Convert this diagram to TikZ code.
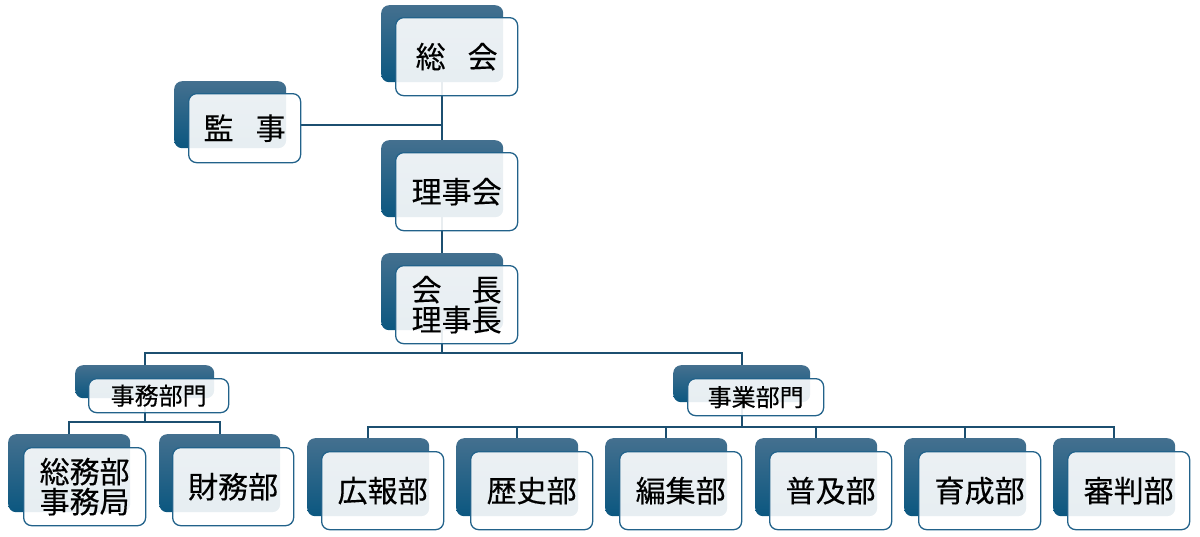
\documentclass[tikz,border=0pt]{standalone}
\usepackage{fontspec}
\newfontfamily\jp[FakeBold=0.3]{Noto Sans CJK JP}
\pgfdeclarelayer{background}
\pgfsetlayers{background,main}
\definecolor{bktop}{HTML}{44708F}
\definecolor{bkbot}{HTML}{0B5780}
\definecolor{ln}{HTML}{1C4F70}
\definecolor{fb}{HTML}{22628A}
\tikzset{
  back/.style={shade, top color=bktop, bottom color=bkbot, rounded corners=8pt, inner sep=0pt, anchor=north west},
  front/.style={fill=white, fill opacity=0.9, text opacity=1, draw=fb, line width=1.3pt, rounded corners=8pt, inner sep=0pt, anchor=north west, align=center, font=\jp\fontsize{30}{30}\selectfont},
  bigback/.style={back, minimum width=122pt, minimum height=77pt},
  bigfront/.style={front, minimum width=122pt, minimum height=78pt},
  smallfront/.style={front, font=\jp\fontsize{24}{24}\selectfont},
  conn/.style={draw=ln, line width=1.8pt}
}
\begin{document}
\begin{tikzpicture}[x=1pt,y=1pt]
\useasboundingbox (0,0) rectangle (1200,-536);
% top chain
\node[bigback] (sokai) at (381,-5) {};
\node[bigfront] (sokaiF) at (395,-17) {総\hspace{22pt}会};
\node[back, minimum width=112pt, minimum height=67pt] (kanji) at (174,-81) {};
\node[front, minimum width=112pt, minimum height=69pt] (kanjiF) at (188,-93) {監\hspace{22pt}事};
\node[bigback] (rijikai) at (381,-140) {};
\node[bigfront] (rijikaiF) at (395,-152) {理事会};
\node[bigback] (kaicho) at (381,-253) {};
\node[bigfront] (kaichoF) at (395,-265) {会\hspace{30pt}長\\[0pt]理事長};
% divisions
\node[back, minimum width=139pt, minimum height=33pt] (jimu) at (75,-365) {};
\node[smallfront, minimum width=140pt, minimum height=34pt] (jimuF) at (88,-378) {事務部門};
\node[back, minimum width=137pt, minimum height=37pt] (jigyo) at (673,-365) {};
\node[smallfront, minimum width=136pt, minimum height=37pt] (jigyoF) at (687,-378) {事業部門};
% admin children
\node[bigback, minimum height=78pt] (somu) at (8,-434) {};
\node[bigfront] (somuF) at (23,-447) {\fontsize{30}{33}\selectfont 総務部\\事務局};
\node[bigback, minimum width=121pt, minimum height=78pt] (zaimu) at (159,-434) {};
\node[bigfront, minimum width=121pt] (zaimuF) at (172,-447) {財務部};
% business children
\node[bigback, minimum height=78pt] (koho) at (307,-438) {};
\node[bigfront] (kohoF) at (321,-451) {広報部};
\node[bigback, minimum height=78pt] (rekishi) at (456,-438) {};
\node[bigfront] (rekishiF) at (470,-451) {歴史部};
\node[bigback, minimum height=78pt] (henshu) at (605,-438) {};
\node[bigfront] (henshuF) at (619,-451) {編集部};
\node[bigback, minimum height=78pt] (fukyu) at (755,-438) {};
\node[bigfront] (fukyuF) at (769,-451) {普及部};
\node[bigback, minimum height=78pt] (ikusei) at (904,-438) {};
\node[bigfront] (ikuseiF) at (918,-451) {育成部};
\node[bigback, minimum height=78pt] (shinpan) at (1053,-438) {};
\node[bigfront] (shinpanF) at (1067,-451) {審判部};
% bus coordinates
\coordinate (b0) at (0,-125);
\coordinate (b1) at (0,-353);
\coordinate (b2) at (0,-422);
\coordinate (b3) at (0,-427);
\begin{pgfonlayer}{background}
\draw[conn] (sokai.center) -- (rijikai.center);
\draw[conn] (rijikai.center) -- (kaicho.center);
\draw[conn] (kanjiF.east |- b0) -- (b0 -| sokai.center);
\draw[conn] (kaicho.center) -- (kaicho.center |- b1);
\draw[conn] (jimu.center) |- (b1 -| jigyo.center) -- (jigyo.center);
\draw[conn] (jimu.center) -- (jimu.center |- b2);
\draw[conn] (somu.center) |- (b2 -| zaimu.center) -- (zaimu.center);
\draw[conn] (jigyo.center) -- (jigyo.center |- b3);
\draw[conn] (koho.center) |- (b3 -| shinpan.center) -- (shinpan.center);
\draw[conn] (rekishi.center) -- (rekishi.center |- b3);
\draw[conn] (henshu.center) -- (henshu.center |- b3);
\draw[conn] (fukyu.center) -- (fukyu.center |- b3);
\draw[conn] (ikusei.center) -- (ikusei.center |- b3);
\end{pgfonlayer}
\end{tikzpicture}
\end{document}
